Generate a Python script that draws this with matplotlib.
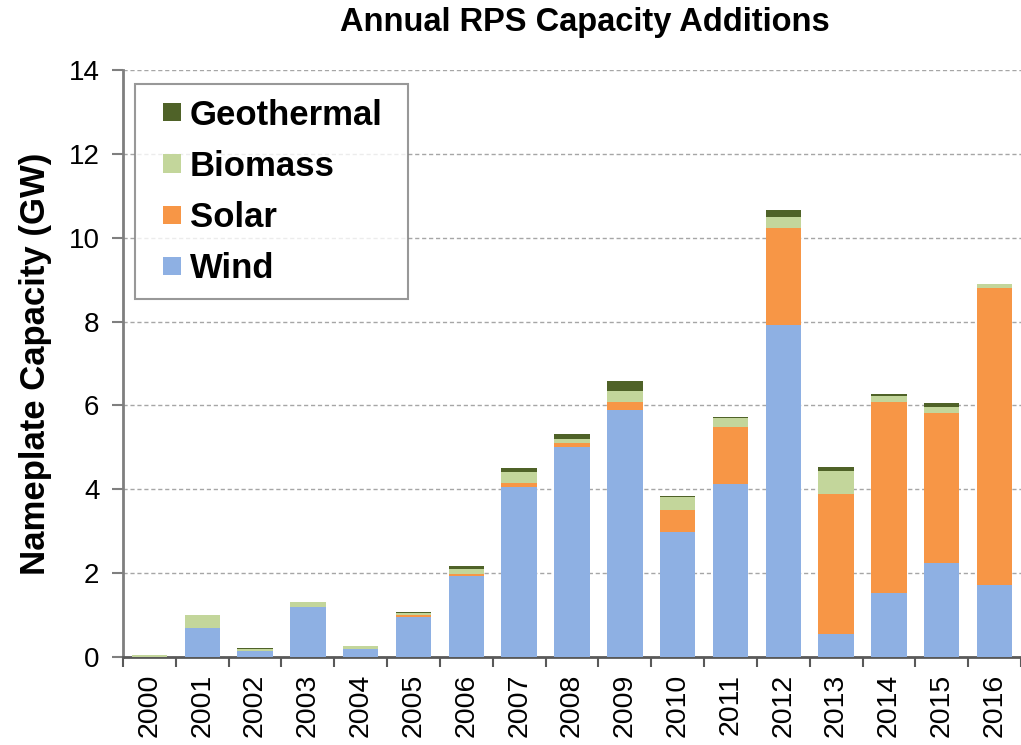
import numpy as np
import matplotlib
matplotlib.use('Agg')
import matplotlib.pyplot as plt
import matplotlib.patches as mpatches
from matplotlib.legend_handler import HandlerPatch

# Данные (GW)
years = [str(y) for y in range(2000, 2017)]
wind = [0.0, 0.70, 0.15, 1.20, 0.19, 0.96, 1.92, 4.05, 5.00, 5.90, 2.97, 4.12, 7.91, 0.54, 1.52, 2.25, 1.71]
solar = [0.0, 0.0, 0.0, 0.0, 0.0, 0.05, 0.05, 0.10, 0.10, 0.17, 0.54, 1.36, 2.33, 3.34, 4.56, 3.58, 7.08]
biomass = [0.05, 0.31, 0.05, 0.10, 0.08, 0.03, 0.14, 0.26, 0.11, 0.27, 0.30, 0.21, 0.25, 0.55, 0.14, 0.14, 0.11]
geothermal = [0.0, 0.0, 0.02, 0.0, 0.0, 0.03, 0.06, 0.09, 0.12, 0.25, 0.03, 0.04, 0.18, 0.09, 0.05, 0.09, 0.0]

plt.rcParams['font.family'] = ['Liberation Sans', 'DejaVu Sans']

fig = plt.figure(figsize=(10.21, 7.45), dpi=100)
ax = fig.add_axes([123 / 1021, 88 / 745, (1021 - 123) / 1021, 587 / 745])

x = np.arange(len(years))
w = 0.67
bottom = np.zeros(len(years))
series = [('Wind', wind, '#8EB0E3'), ('Solar', solar, '#F79646'),
          ('Biomass', biomass, '#C3D69B'), ('Geothermal', geothermal, '#4F6228')]
handles = []
for name, vals, col in series:
    vals = np.array(vals)
    b = ax.bar(x, vals, w, bottom=bottom, color=col, label=name, zorder=3)
    handles.append(b)
    bottom += vals

ax.set_xlim(-0.5, 16.35)
ax.set_ylim(0, 14)
ax.set_yticks(range(0, 15, 2))
ax.yaxis.grid(True, linestyle=(0, (3, 2)), color='#a6a6a6', linewidth=1, zorder=0)

ax.set_xticks(x)
ax.set_xticklabels(years, rotation=90, fontsize=20.5)
ax.set_xticks(np.arange(-0.5, 17, 1), minor=True)
ax.tick_params(axis='x', which='major', length=0, pad=12)
ax.tick_params(axis='x', which='minor', length=7, width=1.5, color='#595959', direction='out')
ax.tick_params(axis='y', labelsize=20, length=8, width=1.5, color='#7f7f7f', pad=9)

for s in ['top', 'right']:
    ax.spines[s].set_visible(False)
ax.spines['left'].set_color('#7f7f7f')
ax.spines['left'].set_linewidth(2)
ax.spines['bottom'].set_color('#595959')
ax.spines['bottom'].set_linewidth(2)

ax.set_ylabel('Nameplate Capacity (GW)', fontsize=25, fontweight='bold', labelpad=12)
fig.text(0.573, 0.97, 'Annual RPS Capacity Additions', ha='center', va='center',
         fontsize=23.5, fontweight='bold')


# маленький квадратик справа в ячейке маркера
def square(legend, orig_handle, xdescent, ydescent, width, height, fontsize):
    sz = 0.52 * fontsize
    return mpatches.Rectangle((-xdescent + width - sz, -ydescent + (height - sz) / 2), sz, sz)


leg_h = [h.patches[0] for h in handles[::-1]]
leg = ax.legend(leg_h, [h.get_label() for h in handles[::-1]],
                loc='upper left',
                bbox_to_anchor=(135 / 1021, 1 - 297 / 745, 273 / 1021, 213 / 745),
                bbox_transform=fig.transFigure, mode='expand', borderaxespad=0,
                frameon=True, fancybox=False, edgecolor='#7f7f7f',
                handlelength=0.9, handleheight=0.7, handletextpad=0.26,
                labelspacing=0.52, borderpad=0.42,
                handler_map={mpatches.Rectangle: HandlerPatch(patch_func=square)},
                prop={'weight': 'bold', 'size': 25})
leg.get_frame().set_linewidth(1.5)

plt.savefig('out.png', dpi=100)
